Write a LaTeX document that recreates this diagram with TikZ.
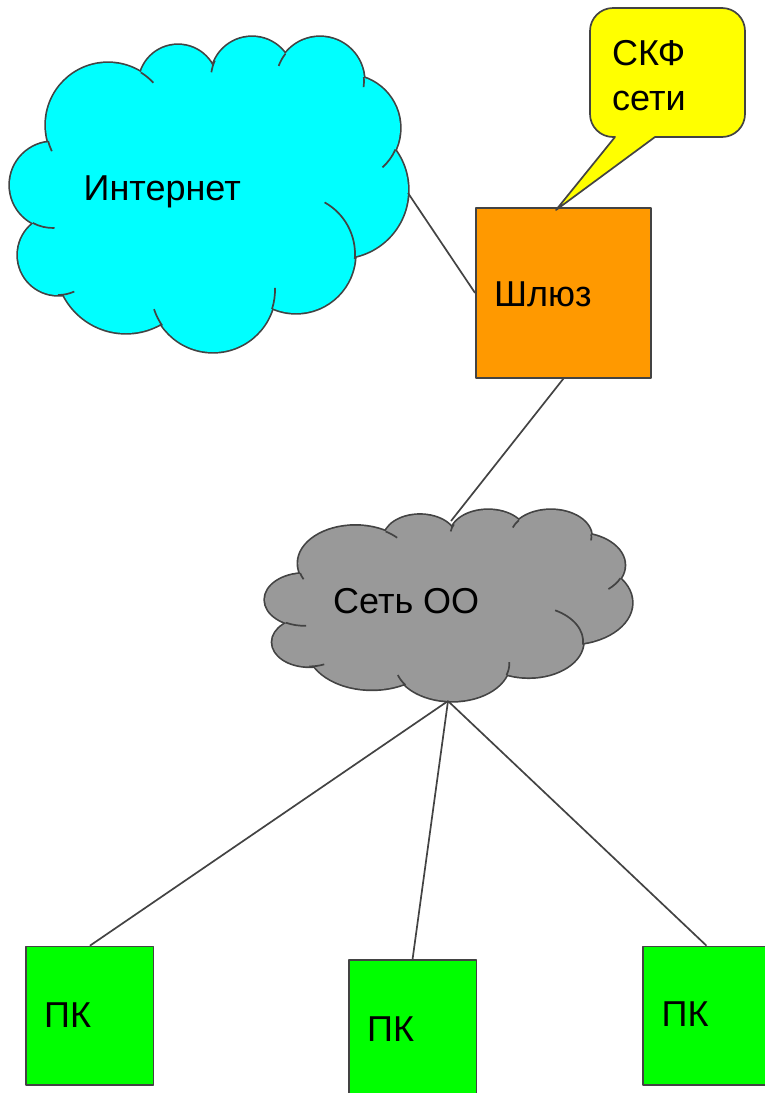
\documentclass[tikz,border=0pt]{standalone}
\usepackage{fontspec}
\setmainfont{Liberation Sans}
\usetikzlibrary{calc}
\definecolor{stk}{HTML}{434343}
\definecolor{cyanfill}{HTML}{00FFFF}
\definecolor{orangefill}{HTML}{FF9900}
\definecolor{yellowfill}{HTML}{FFFF00}
\definecolor{grayfill}{HTML}{999999}
\definecolor{greenfill}{HTML}{00FF00}
\newcommand\drawmycloud[1]{%
  \foreach \cx/\cy/\r in {53/185/43,108/125/62,178/84/39,252/78/41,320/81/44,347/128/53,340/190/68,296/254/59,213/290/62,126/263/70,58/255/40}
    {\draw[stk,line width=3.4bp] (\cx,\cy) circle[radius=\r];}
  \fill[#1] (53,185) -- (108,125) -- (178,84) -- (252,78) -- (320,81) -- (347,128) -- (340,190) -- (296,254) -- (213,290) -- (126,263) -- (58,255) -- cycle;
  \foreach \cx/\cy/\r in {53/185/43,108/125/62,178/84/39,252/78/41,320/81/44,347/128/53,340/190/68,296/254/59,213/290/62,126/263/70,58/255/40}
    {\fill[#1] (\cx,\cy) circle[radius=\r];}
  \foreach \cx/\cy/\r/\a/\b in {108/125/62/-58/-43,252/78/41/205/188,320/81/44/218/200,320/81/44/-5/8,347/128/53/24/48,296/254/59/-61/5,213/290/62/18/-2,213/290/62/145/162,58/255/40/90/66,53/185/43/118/88,108/125/62/165/155}
    {\draw[stk,line width=1.7bp] ($(\cx,\cy)+(\a:\r)$) arc[start angle=\a,end angle=\b,radius=\r];}
}
\begin{document}
\begin{tikzpicture}[x=1bp,y=-1bp,line join=round,
  lbl/.style={font=\fontsize{36bp}{45bp}\selectfont,inner sep=0pt,text=black},
  box/.style={draw=stk,line width=1.7bp,inner sep=0pt,anchor=north west},
  conn/.style={draw=stk,line width=1.7bp}]
\useasboundingbox (0,0) rectangle (765,1093);

% Internet cloud
\drawmycloud{cyanfill}
\coordinate (inetR) at (408,193);

% LAN cloud (same shape, scaled)
\begin{scope}[shift={(255.78,487.57)},xscale=0.9221,yscale=0.6063]
\drawmycloud{grayfill}
\end{scope}
\coordinate (lanTop) at (451,521);
\coordinate (lanBot) at (448,701);

% boxes
\node[box,fill=orangefill,minimum width=175bp,minimum height=170bp] (gw) at (475,207) {};
\node[box,fill=greenfill,minimum width=127.3bp,minimum height=138.6bp] (pc1) at (25.4,945.7) {};
\node[box,fill=greenfill,minimum width=127.8bp,minimum height=138.6bp] (pc2) at (347.8,959.3) {};
\node[box,fill=greenfill,minimum width=127.3bp,minimum height=138.6bp] (pc3) at (642,945.7) {};

% connectors
\draw[conn] (inetR) -- (gw.west);
\draw[conn] (gw.south) -- (lanTop);
\draw[conn] (lanBot) -- (pc1.north);
\draw[conn] (lanBot) -- (pc2.north);
\draw[conn] (lanBot) -- (pc3.north);

% callout
\coordinate (tip) at (556,210);
\draw[stk,line width=1.7bp,fill=yellowfill] (615,137) -- (tip) -- (655,137) -- (722,137)
  arc[start angle=90,end angle=0,radius=23] -- (745,31)
  arc[start angle=0,end angle=-90,radius=23] -- (613,8)
  arc[start angle=-90,end angle=-180,radius=23] -- (590,114)
  arc[start angle=180,end angle=90,radius=23] -- cycle;

% texts
\node[lbl,anchor=base west] (inetText) at (83.5,200) {Интернет};
\node[lbl,anchor=base west] (lanText) at (333,613.3) {Сеть ОО};
\node[lbl,anchor=base west] (gwText) at (494,306.7) {Шлюз};
\node[lbl,anchor=base west,align=left] (skfText) at (612,110) {СКФ\\сети};
\node[lbl,anchor=base west] (pc1Text) at (44,1027.3) {ПК};
\node[lbl,anchor=base west] (pc2Text) at (367,1041.7) {ПК};
\node[lbl,anchor=base west] (pc3Text) at (661.5,1026.7) {ПК};
\end{tikzpicture}
\end{document}
